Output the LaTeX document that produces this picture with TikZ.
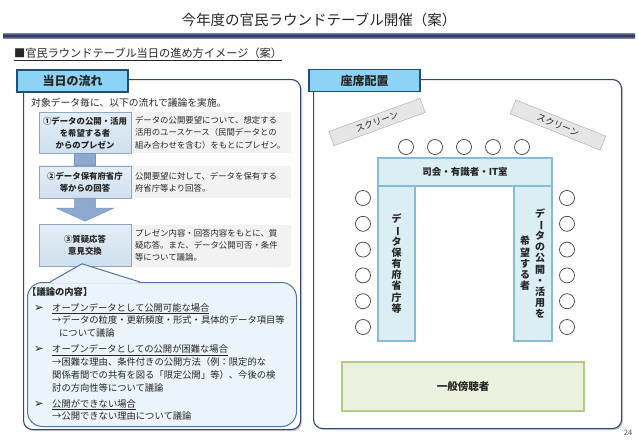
\documentclass[tikz,border=0pt]{standalone}
\usepackage{fontspec}
\usepackage{graphicx}
\setmainfont{Noto Sans CJK JP}
\newfontfamily\symfont{DejaVu Sans}
\usetikzlibrary{positioning,shadows,calc}

\definecolor{navy}{HTML}{2E4A73}
\definecolor{tabfill}{HTML}{8DD3F5}
\definecolor{tabline}{HTML}{1F4E79}
\definecolor{flowtop}{HTML}{E4EEF7}
\definecolor{flowbot}{HTML}{CFE0EF}
\definecolor{flowline}{HTML}{8CA7C2}
\definecolor{arrowfill}{HTML}{8EA9D0}
\definecolor{arrowline}{HTML}{7A96BE}
\definecolor{descfill}{HTML}{F2F2F2}
\definecolor{talkfill}{HTML}{EBF4FA}
\definecolor{talkline}{HTML}{4D73A8}
\definecolor{deskfill}{HTML}{DAEEF3}
\definecolor{deskline}{HTML}{86BCD6}
\definecolor{audfill}{HTML}{EBF1DE}
\definecolor{audline}{HTML}{B3CB85}
\definecolor{barA}{HTML}{7A829C}
\definecolor{barB}{HTML}{1F2B5E}
\definecolor{ink}{HTML}{262626}

\newcommand{\fsz}[2]{\fontsize{#1}{#2}\selectfont}
\newcommand{\vbar}{\rotatebox[origin=c]{-90}{ー}}
\newcommand{\itemmark}{\makebox[18pt][l]{{\symfont\fsz{11.5}{12.8}➢}}}

\begin{document}
\begin{tikzpicture}[x=1pt, y=-1pt, text=ink,
  panel/.style={draw=navy, line width=1.1pt, fill=white, rounded corners=9pt,
    drop shadow={shadow xshift=1.5pt, shadow yshift=-1.5pt, fill=black!40, opacity=.5}},
  tab/.style={draw=tabline, line width=1.3pt, fill=tabfill, minimum width=111pt,
    minimum height=22pt, font=\fsz{12}{14}\bfseries},
  flow/.style={draw=flowline, line width=0.6pt, top color=flowtop, bottom color=flowbot,
    minimum width=92pt, align=center, font=\fsz{8.4}{12}\bfseries, inner sep=0pt},
  desc/.style={fill=descfill, text width=152pt, inner xsep=3.5pt, inner ysep=0pt,
    align=left, font=\fsz{8.4}{12.2}},
  blockarrow/.style={fill=arrowfill, draw=arrowline, line width=0.5pt},
  talk/.style={draw=talkline, line width=1pt, fill=talkfill, rounded corners=15pt},
  screen/.style={draw=black!35, fill=black!10, minimum width=97pt, minimum height=15pt,
    inner sep=0pt, font=\fsz{9}{10}},
  seat/.style={circle, draw=black!75, line width=0.7pt, fill=white, minimum size=15pt, inner sep=0pt},
  desk/.style={draw=deskline, line width=1.2pt, fill=deskfill, inner sep=0pt},
  vtext/.style={align=center, font=\fsz{10}{11.2}\bfseries, inner sep=0pt},
]
\useasboundingbox (0,0) rectangle (638,442);

% heading
\node[font=\fsz{14.5}{16}] (title) at (319,20) {今年度の官民ラウンドテーブル開催（案）};
\shade[top color=barA, bottom color=barA, middle color=barB] (3,33) rectangle (635,38);
\node[anchor=west, font=\fsz{11.2}{13}, inner sep=0pt] (sub) at (14,54)
  {\underline{■官民ラウンドテーブル当日の進め方イメージ（案）}};

% panels
\node[panel, minimum width=277pt, minimum height=350pt, anchor=north west] (flowpanel) at (23,79) {};
\node[panel, minimum width=308pt, minimum height=349pt, anchor=north west] (seatpanel) at (313,79) {};
\node[tab] (flowtab) at (72.5,81) {当日の流れ};
\node[tab] (seattab) at (364.5,80.5) {座席配置};

% flow of the day
\node[anchor=west, font=\fsz{9.8}{12}, inner sep=0pt] (intro) at (31,103) {対象データ毎に、以下の流れで議論を実施。};

\node[flow, minimum height=41pt, anchor=north] (s1) at (85,112) {①データの公開・活用\\を希望する者\\からのプレゼン};
\node[flow, minimum height=32pt, below=12pt of s1] (s2) {②データ保有府省庁\\等からの回答};
\node[flow, minimum height=42pt, below=26pt of s2] (s3) {③質疑応答\\意見交換};

\node[desc, minimum height=41pt, right=0pt of s1] (d1) {データの公開要望について、想定する\\活用のユースケース（民間データとの\\組み合わせを含む）をもとにプレゼン。};
\node[desc, minimum height=32pt, right=0pt of s2] (d2) {公開要望に対して、データを保有する\\府省庁等より回答。};
\node[desc, minimum height=42pt, right=0pt of s3] (d3) {プレゼン内容・回答内容をもとに、質\\疑応答。また、データ公開可否・条件\\等について議論。};

\filldraw[blockarrow] ([xshift=-10.5pt]s1.south) rectangle ([xshift=10.5pt]s2.north);
\filldraw[blockarrow] ([xshift=-10.5pt]s2.south) -- ++(0,10) -- ++(-18,0)
  -- ([yshift=3pt]s3.north) -- ++(28.5,-13) -- ++(-18,0) -- ([xshift=10.5pt]s2.south) -- cycle;

% discussion callout
\node[talk, minimum width=269pt, minimum height=144pt, anchor=north west] (talk) at (27,282) {};
\fill[talkfill] ([xshift=23pt,yshift=-1pt]talk.north west) -- ([xshift=-3pt,yshift=3pt]s3.south)
  -- ([xshift=113pt,yshift=-1pt]talk.north west) -- cycle;
\draw[talkline, line width=1pt] ([xshift=23pt]talk.north west) -- ([xshift=-3pt,yshift=3pt]s3.south)
  -- ([xshift=113pt]talk.north west);
\node[anchor=north west, align=left, inner sep=0pt, font=\fsz{9.3}{12.8}] (topics) at (31,287) {%
  \hspace*{-4pt}\textbf{【議論の内容】}\\[3.2pt]
  \hspace*{3pt}\itemmark\underline{オープンデータとして公開可能な場合}\\
  \hspace*{21pt}→データの粒度・更新頻度・形式・具体的データ項目等\\
  \hspace*{28pt}について議論\\[3.2pt]
  \hspace*{3pt}\itemmark\underline{オープンデータとしての公開が困難な場合}\\
  \hspace*{21pt}→困難な理由、条件付きの公開方法（例：限定的な\\
  \hspace*{21pt}関係者間での共有を図る「限定公開」等）、今後の検\\
  \hspace*{21pt}討の方向性等について議論\\[3.2pt]
  \hspace*{3pt}\itemmark\underline{公開ができない場合}\\
  \hspace*{21pt}→公開できない理由について議論};

% seating
\node[screen, rotate=20] (scrL) at (377,122) {スクリーン};
\node[screen, rotate=-22] (scrR) at (558,125) {スクリーン};

\foreach \i in {0,...,4}
  \node[seat] (top\i) at (406+29*\i,147) {};
\foreach \i in {0,...,5} {
  \node[seat] (L\i) at (363,198+25.8*\i) {};
  \node[seat] (R\i) at (567,198+25.8*\i) {};
}

\node[desk, minimum width=37pt, minimum height=155pt] (deskL) at (396.5,263.5) {};
\node[desk, minimum width=38pt, minimum height=155pt] (deskR) at (533,263.5) {};
\node[desk, minimum width=174pt, minimum height=28pt, font=\fsz{9.5}{11}\bfseries] (head) at (465,172) {司会・有識者・IT室};
\node[vtext] (govt) at (deskL) {デ\\\vbar\\タ\\保\\有\\府\\省\\庁\\等};
\node[vtext] (userA) at ([xshift=7pt]deskR.center) {デ\\\vbar\\タ\\の\\公\\開\\・\\活\\用\\を};
\node[vtext] (userB) at ([xshift=-8pt]deskR.center) {希\\望\\す\\る\\者};

\node[draw=audline, line width=1.2pt, fill=audfill, minimum width=242pt, minimum height=49pt,
  font=\fsz{10.5}{12}\bfseries] (aud) at (463,386.5) {一般傍聴者};

\node[font=\fsz{7.5}{9}, text=black!70] (page) at (628,433) {24};
\end{tikzpicture}
\end{document}
